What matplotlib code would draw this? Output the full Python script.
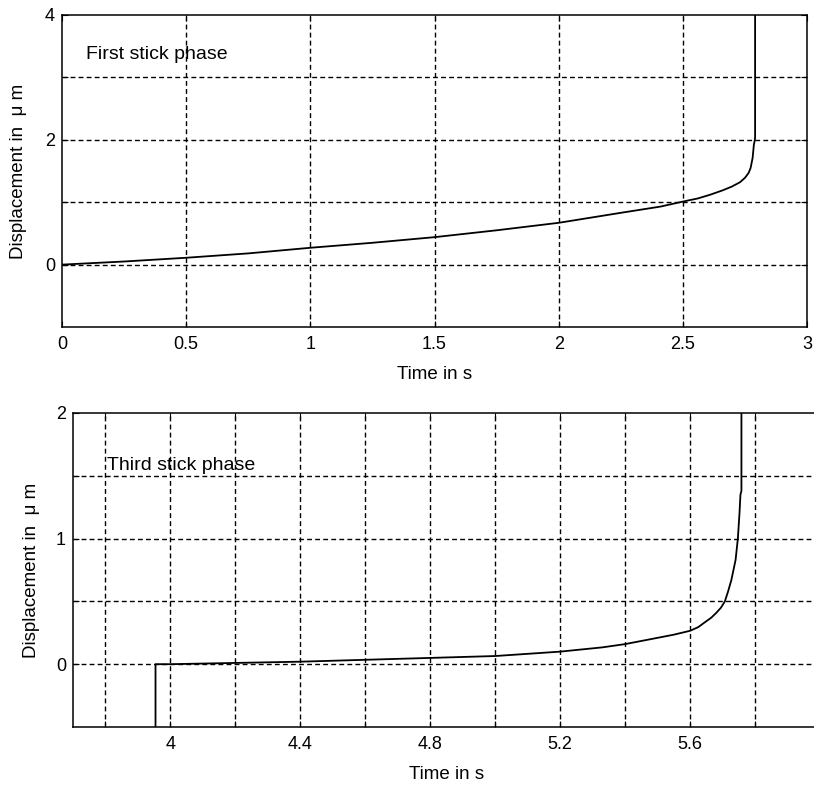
import matplotlib.pyplot as plt

plt.rcParams['font.family'] = ['Liberation Sans', 'DejaVu Sans']

# first stick phase: time (s) and displacement (um)
t1 = [0.0, 0.25, 0.5, 0.75, 1.0, 1.25, 1.5, 1.75, 2.0, 2.25, 2.41, 2.5,
      2.56, 2.61, 2.66, 2.697, 2.73, 2.75, 2.765, 2.773, 2.781, 2.786,
      2.79, 2.791, 2.791]
x1 = [0.0, 0.05, 0.11, 0.18, 0.27, 0.35, 0.44, 0.55, 0.67, 0.83, 0.93, 1.01,
      1.06, 1.12, 1.19, 1.25, 1.32, 1.39, 1.47, 1.55, 1.71, 1.92,
      2.0, 2.05, 4.5]

# third stick phase
t3 = [3.954, 3.954, 4.0, 4.2, 4.4, 4.6, 4.8, 5.0, 5.2, 5.33, 5.4, 5.48,
      5.55, 5.6, 5.625, 5.645, 5.665, 5.681, 5.695, 5.707, 5.717, 5.727,
      5.74, 5.747, 5.752, 5.755, 5.758, 5.758]
x3 = [-1.0, 0.0, 0.0, 0.01, 0.02, 0.035, 0.05, 0.065, 0.1, 0.134, 0.16, 0.2,
      0.235, 0.266, 0.295, 0.333, 0.37, 0.41, 0.45, 0.5, 0.58, 0.67,
      0.83, 1.0, 1.2, 1.35, 1.38, 2.5]

top_xticks = [0, 0.5, 1, 1.5, 2, 2.5, 3]
top_xlabels = ['0', '0.5', '1', '1.5', '2', '2.5', '3']
top_yticks = [0, 1, 2, 3, 4]
top_ylabels = ['0', '', '2', '', '4']

bot_xticks = [3.8, 4.0, 4.2, 4.4, 4.6, 4.8, 5.0, 5.2, 5.4, 5.6, 5.8]
bot_xlabels = ['', '4', '', '4.4', '', '4.8', '', '5.2', '', '5.6', '']
bot_yticks = [0, 0.5, 1, 1.5, 2]
bot_ylabels = ['0', '', '1', '', '2']

fig = plt.figure(figsize=(8.14, 7.85), dpi=100)
ax1 = fig.add_axes([0.0762, 0.5834, 0.9152, 0.3975])
ax2 = fig.add_axes([0.0897, 0.0739, 0.9177, 0.4000])

grid_kw = dict(color='black', linewidth=1.0, linestyle=(0, (3.5, 2.3)))

ax1.plot(t1, x1, color='black', linewidth=1.3)
ax1.set_xlim(0, 3)
ax1.set_ylim(-1, 4)
ax1.set_xticks(top_xticks, top_xlabels)
ax1.set_yticks(top_yticks, top_ylabels)
ax1.text(0.097, 3.3, 'First stick phase', fontsize=14, va='baseline')

ax2.plot(t3, x3, color='black', linewidth=1.3)
ax2.set_xlim(3.7, 6.0)
ax2.set_ylim(-0.5, 2)
ax2.set_xticks(bot_xticks, bot_xlabels)
ax2.set_yticks(bot_yticks, bot_ylabels)
ax2.text(3.806, 1.544, 'Third stick phase', fontsize=14, va='baseline')

for ax, ylab_x in ((ax1, -0.059), (ax2, -0.056)):
    ax.grid(True, **grid_kw)
    ax.tick_params(direction='in', length=4, labelsize=13, top=True,
                   right=True, color='black')
    ax.tick_params(axis='x', pad=6.5)
    ax.tick_params(axis='y', pad=5)
    for s in ax.spines.values():
        s.set_linewidth(1.1)
        s.set_zorder(3)
    # no dashed grid line on top of the box edges
    xlo, xhi = ax.get_xlim()
    for tk in ax.xaxis.get_major_ticks():
        if abs(tk.get_loc() - xlo) < 1e-9 or abs(tk.get_loc() - xhi) < 1e-9:
            tk.gridline.set_visible(False)
    ylo, yhi = ax.get_ylim()
    for tk in ax.yaxis.get_major_ticks():
        if abs(tk.get_loc() - ylo) < 1e-9 or abs(tk.get_loc() - yhi) < 1e-9:
            tk.gridline.set_visible(False)
    ax.set_xlabel('Time in s', fontsize=13.5, va='baseline')
    ax.xaxis.set_label_coords(0.5, -0.166)
    ax.set_ylabel('Displacement in  \u03bc m', fontsize=13.5, va='center')
    ax.yaxis.set_label_coords(ylab_x, 0.5)

fig.savefig('out.png', dpi=100)
